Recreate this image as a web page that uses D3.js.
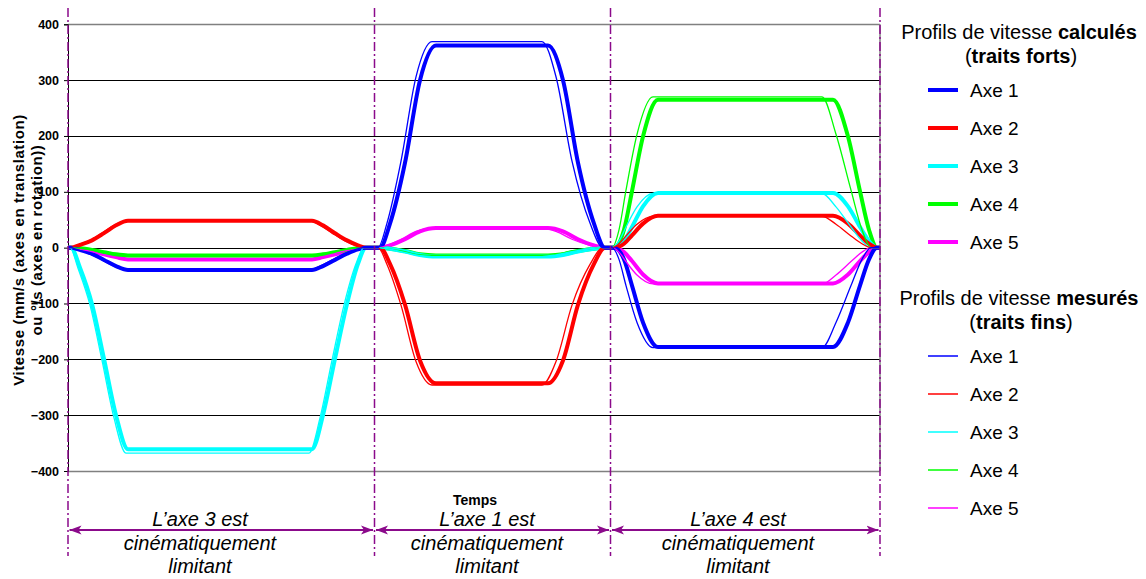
<!DOCTYPE html>
<html><head><meta charset="utf-8">
<script src="https://cdn.jsdelivr.net/npm/d3@7"></script>
<style>
body{margin:0;background:#fff}
svg{display:block}
text{font-family:"Liberation Sans",Arial,sans-serif}
</style>
</head><body>
<svg id="c" width="1146" height="579"></svg>
<script>
// ---------- DATA ----------
const yTicks = [-400,-300,-200,-100,0,100,200,300,400];
const axisNames = ["Axe 1","Axe 2","Axe 3","Axe 4","Axe 5"];
const segmentBounds = [0, 3.065, 5.425, 8.12];
const segmentLabels = [
  ["L\u2019axe 3 est","cinématiquement","limitant"],
  ["L\u2019axe 1 est","cinématiquement","limitant"],
  ["L\u2019axe 4 est","cinématiquement","limitant"]
];
// calculated profiles (thick)
const calcTime = [0,0.03,0.12,0.24,0.36,0.48,0.60,2.44,2.55,2.67,2.79,2.90,2.98,
  3.07,3.12,3.22,3.37,3.52,3.68,4.80,4.95,5.10,5.26,5.37,
  5.42,5.46,5.56,5.64,5.75,5.90,7.65,7.80,7.92,8.01,8.09,8.12];
const calcAxe1 = [0,0,-4,-11,-22,-33,-40,-40,-33,-22,-11,-3,0, 0,0,43,152,300,362,362,300,152,43,0, 0,0,-21,-68,-134,-178,-178,-134,-68,-21,0,0];
const calcAxe2 = [0,0,5,13,26,40,48,48,40,26,13,4,0, 0,0,-29,-102,-202,-243,-243,-202,-102,-29,0, 0,0,7,22,43,57,57,43,22,7,0,0];
const calcAxe3 = [0,0,-36,-101,-199,-300,-361,-361,-300,-199,-101,-29,0, 0,0,-2,-7,-13,-16,-16,-13,-7,-2,0, 0,0,12,37,74,98,98,74,37,12,0,0];
const calcAxe4 = [0,0,-1,-4,-8,-12,-14,-14,-12,-8,-4,-1,0, 0,0,-2,-6,-12,-14,-14,-12,-6,-2,0, 0,0,32,101,199,265,265,199,101,32,0,0];
const calcAxe5 = [0,0,-2,-6,-12,-17,-21,-21,-17,-12,-6,-2,0, 0,0,4,15,29,35,35,29,15,4,0, 0,0,-8,-24,-48,-64,-64,-48,-24,-8,0,0];
// measured profiles (thin)
const measTime = [0,0.02,0.10,0.22,0.34,0.46,0.58,2.41,2.52,2.64,2.76,2.88,2.96,
  3.07,3.10,3.19,3.33,3.48,3.64,4.74,4.88,5.04,5.22,5.35,
  5.42,5.44,5.51,5.58,5.69,5.85,7.54,7.68,7.83,7.94,8.03,8.12];
const measAxe1 = [0,0,-4,-11,-22,-33,-40,-40,-33,-22,-11,-3,0, 0,0,44,155,306,369,369,306,155,44,0, 0,0,-21,-68,-134,-179,-179,-134,-68,-21,0,0];
const measAxe2 = [0,0,5,13,26,40,48,48,40,26,13,4,0, 0,0,-30,-103,-204,-246,-246,-204,-103,-30,0, 0,0,7,21,42,56,56,42,21,7,0,0];
const measAxe3 = [0,0,-37,-103,-202,-305,-368,-368,-305,-202,-103,-29,0, 0,0,-2,-7,-13,-16,-16,-13,-7,-2,0, 0,0,12,37,73,97,97,73,37,12,0,0];
const measAxe4 = [0,0,-1,-4,-8,-12,-14,-14,-12,-8,-4,-1,0, 0,0,-2,-6,-12,-14,-14,-12,-6,-2,0, 0,0,32,103,203,270,270,203,103,32,0,0];
const measAxe5 = [0,0,-2,-6,-12,-17,-21,-21,-17,-12,-6,-2,0, 0,0,4,15,29,35,35,29,15,4,0, 0,0,-8,-25,-49,-65,-65,-49,-25,-8,0,0];

// ---------- STYLE ----------
const colors = ["#0000FF","#FF0000","#00FFFF","#00FF00","#FF00FF"];
const purple = "#8B0A8B";

const svg = d3.select("#c");
const x = d3.scaleLinear().domain([0, 8.12]).range([68, 880]);
const y = d3.scaleLinear().domain([-400, 400]).range([471, 24.3]);

// gridlines
svg.append("g").selectAll("line").data(yTicks).join("line")
  .attr("x1", x(0)).attr("x2", x(8.12))
  .attr("y1", d => Math.round(y(d)) + 0.5).attr("y2", d => Math.round(y(d)) + 0.5)
  .attr("stroke", d => Math.abs(d) === 400 ? "#808080" : "#000")
  .attr("stroke-width", d => Math.abs(d) === 400 ? 1.5 : 1);
// right border
svg.append("line").attr("x1", x(8.12)).attr("x2", x(8.12))
  .attr("y1", y(400)).attr("y2", y(-400)).attr("stroke", "#808080").attr("stroke-width", 1.5);

// y axis
const yAxis = d3.axisLeft(y).tickValues(yTicks).tickSize(4).tickPadding(5);
const ga = svg.append("g").attr("transform", `translate(${x(0)},0)`).call(yAxis);
ga.select(".domain").attr("stroke", "#000");
ga.selectAll("text").attr("font-size", 12.5).attr("font-weight", "bold")
  .attr("font-family", "'Liberation Sans Narrow','Arial Narrow','Liberation Sans',Arial,sans-serif")
  .attr("fill", "#000");

// y title
const yt = svg.append("g").attr("font-weight", "bold").attr("font-size", 15)
  .attr("letter-spacing", "0.6px").attr("text-anchor", "middle");
yt.append("text").attr("transform", "translate(24,250) rotate(-90)").text("Vitesse (mm/s (axes en translation)");
yt.append("text").attr("transform", "translate(42,240) rotate(-90)").text("ou °/s (axes en rotation))");

// curves
const line = d3.line().x(d => x(d[0])).y(d => y(d[1])).curve(d3.curveMonotoneX);
const calcSeries = [calcAxe1, calcAxe2, calcAxe3, calcAxe4, calcAxe5];
const measSeries = [measAxe1, measAxe2, measAxe3, measAxe4, measAxe5];
const order = [4,3,2,1,0];
const gc = svg.append("g").attr("fill", "none").attr("stroke-linejoin", "round");
order.forEach(i => {
  gc.append("path").datum(calcTime.map((t, k) => [t, calcSeries[i][k]]))
    .attr("d", line).attr("stroke", colors[i]).attr("stroke-width", 4);
});
order.forEach(i => {
  gc.append("path").datum(measTime.map((t, k) => [t, measSeries[i][k]]))
    .attr("d", line).attr("stroke", colors[i]).attr("stroke-width", 1.3);
});

// vertical dash-dot separators
svg.append("g").selectAll("line").data(segmentBounds).join("line")
  .attr("x1", d => x(d)).attr("x2", d => x(d)).attr("y1", 8).attr("y2", 556)
  .attr("stroke", purple).attr("stroke-width", 1.5).attr("stroke-dasharray", "9,3,2,3");

// arrows
const defs = svg.append("defs");
defs.append("marker").attr("id", "ah").attr("viewBox", "0 -5 12 10")
  .attr("refX", 12).attr("refY", 0).attr("markerWidth", 12).attr("markerHeight", 10)
  .attr("markerUnits", "userSpaceOnUse").attr("orient", "auto-start-reverse")
  .append("path").attr("d", "M0,-4.5L12,0L0,4.5L3,0Z").attr("fill", purple);
const ag = svg.append("g");
for (let s = 0; s < 3; s++) {
  ag.append("line").attr("x1", x(segmentBounds[s]) + 1.5).attr("x2", x(segmentBounds[s + 1]) - 1.5)
    .attr("y1", 530).attr("y2", 530).attr("stroke", purple).attr("stroke-width", 2)
    .attr("marker-start", "url(#ah)").attr("marker-end", "url(#ah)");
}
// segment labels
const labelCenters = [200, 487, 738];
const lg = svg.append("g").attr("font-style", "italic").attr("font-size", 20).attr("text-anchor", "middle").attr("fill", "#000");
segmentLabels.forEach((lines, s) => {
  [526, 550, 573].forEach((by, k) => {
    lg.append("text").attr("x", labelCenters[s]).attr("y", by).text(lines[k]);
  });
});
// x title
svg.append("text").attr("x", 475).attr("y", 505).attr("text-anchor", "middle")
  .attr("font-weight", "bold").attr("font-size", 14).text("Temps");

// legends
function legend(top, kind, paren, width) {
  const g = svg.append("g").attr("fill", "#000");
  const t1 = g.append("text").attr("x", 1019).attr("y", top).attr("text-anchor", "middle").attr("font-size", 20);
  t1.append("tspan").text("Profils de vitesse ");
  t1.append("tspan").attr("font-weight", "bold").text(kind);
  const t2 = g.append("text").attr("x", 1021).attr("y", top + 24).attr("text-anchor", "middle").attr("font-size", 20);
  t2.append("tspan").text("(");
  t2.append("tspan").attr("font-weight", "bold").text(paren);
  t2.append("tspan").text(")");
  axisNames.forEach((n, i) => {
    const cy = top + 51 + i * 38;
    g.append("line").attr("x1", 928).attr("x2", 958).attr("y1", cy).attr("y2", cy)
      .attr("stroke", colors[i]).attr("stroke-width", width);
    g.append("text").attr("x", 970).attr("y", cy + 7).attr("font-size", 19).text(n);
  });
}
legend(39, "calculés", "traits forts", 4);
legend(305, "mesurés", "traits fins", 1.5);
</script>
</body></html>
